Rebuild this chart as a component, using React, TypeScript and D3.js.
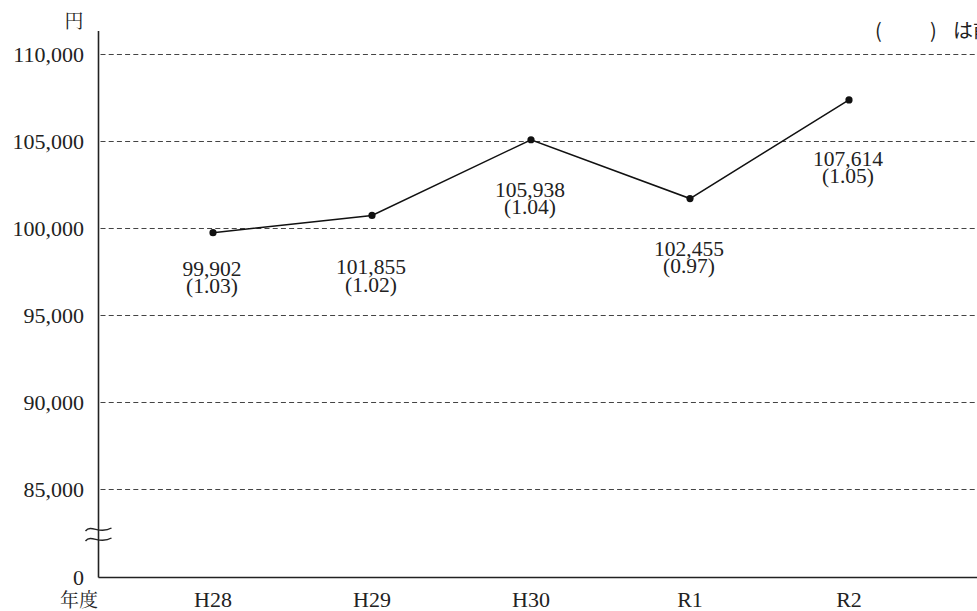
import { useEffect } from 'react';
import * as d3 from 'd3';

const YEARS = ['H28', 'H29', 'H30', 'R1', 'R2'];
// plotted positions as drawn in the reference
const PLOT_VALUES = [99760, 100750, 105100, 101720, 107390];
// annotation text
const LABEL_VALUES = [99902, 101855, 105938, 102455, 107614];
const LABEL_RATIOS = ['1.03', '1.02', '1.04', '0.97', '1.05'];
const Y_TICKS = [0, 85000, 90000, 95000, 100000, 105000, 110000];

const W = 977;
const H = 611;
const AXIS_X = 98.5;
const AXIS_TOP = 31;
const BASE_Y = 577.5;
const LABEL_DY = [43, 59, 57, 57, 66];

const INK = '#222';

export default function App() {
  useEffect(() => {
    document.body.style.margin = '0';
  }, []);

  // broken axis: 0 sits one step below 85,000
  const y = d3.scaleLinear().domain([0, 85000, 110000]).range([BASE_Y, 489.5, 54.5]);
  const x = d3.scalePoint<string>().domain(YEARS).range([213, 849]);

  const pts = YEARS.map((yr, i) => [x(yr) as number, y(PLOT_VALUES[i])] as [number, number]);
  const line = d3.line();
  const fmt = d3.format(',');

  const tilde = (cy: number) =>
    `M ${AXIS_X - 13} ${cy + 2} C ${AXIS_X - 7} ${cy - 5}, ${AXIS_X + 1} ${cy + 6}, ${AXIS_X + 13} ${cy - 1}`;

  return (
    <svg width={W} height={H} style={{ display: 'block', background: '#fff', fontFamily: '"Liberation Serif"' }}>
      {/* gridlines */}
      {Y_TICKS.filter((t) => t > 0).map((t) => (
        <line key={t} x1={AXIS_X + 2} x2={W} y1={y(t)} y2={y(t)}
          stroke="#444" strokeWidth={1.2} strokeDasharray="5,3.2" />
      ))}

      {/* axes */}
      <line x1={AXIS_X} x2={AXIS_X} y1={AXIS_TOP} y2={BASE_Y} stroke={INK} strokeWidth={1.6} />
      <line x1={AXIS_X} x2={W} y1={BASE_Y} y2={BASE_Y} stroke={INK} strokeWidth={1.6} />

      {/* axis break */}
      <path d={tilde(529)} fill="none" stroke={INK} strokeWidth={1.4} />
      <path d={tilde(539)} fill="none" stroke={INK} strokeWidth={1.4} />

      {/* y tick labels */}
      {Y_TICKS.map((t) => (
        <text key={t} x={84} y={y(t) + 7} textAnchor="end"
          style={{ fontFamily: '"Liberation Serif"', fontSize: '22px' }} fill={INK}>{fmt(t)}</text>
      ))}
      <text x={74} y={28} textAnchor="middle" style={{ fontFamily: '"Noto Serif CJK JP"', fontSize: '19px' }} fill={INK}>円</text>

      {/* x labels */}
      {YEARS.map((yr) => (
        <text key={yr} x={x(yr)} y={607} textAnchor="middle"
          style={{ fontFamily: '"Liberation Serif"', fontSize: '22px' }} fill={INK}>{yr}</text>
      ))}
      <text x={79} y={607} textAnchor="middle" style={{ fontFamily: '"Noto Serif CJK JP"', fontSize: '19px' }} fill={INK}>年度</text>

      {/* note top right */}
      <g style={{ fontFamily: '"Noto Sans CJK JP"', fontSize: '20px' }} fill={INK}>
        <text x={875} y={38}>(</text>
        <text x={930} y={38}>)</text>
        <text x={953} y={38}>は前年度比</text>
      </g>

      {/* series */}
      <path d={line(pts) ?? ''} fill="none" stroke="#111" strokeWidth={1.5} />
      {pts.map(([px, py], i) => (
        <circle key={i} cx={px} cy={py} r={3.6} fill="#111" />
      ))}

      {/* value labels */}
      {pts.map(([px, py], i) => (
        <g key={'l' + i} style={{ fontFamily: '"Liberation Serif"', fontSize: '21.5px' }} fill={INK} textAnchor="middle">
          <text x={px - 1} y={py + LABEL_DY[i]}>{fmt(LABEL_VALUES[i])}</text>
          <text x={px - 1} y={py + LABEL_DY[i] + 17.5}>({LABEL_RATIOS[i]})</text>
        </g>
      ))}
    </svg>
  );
}
